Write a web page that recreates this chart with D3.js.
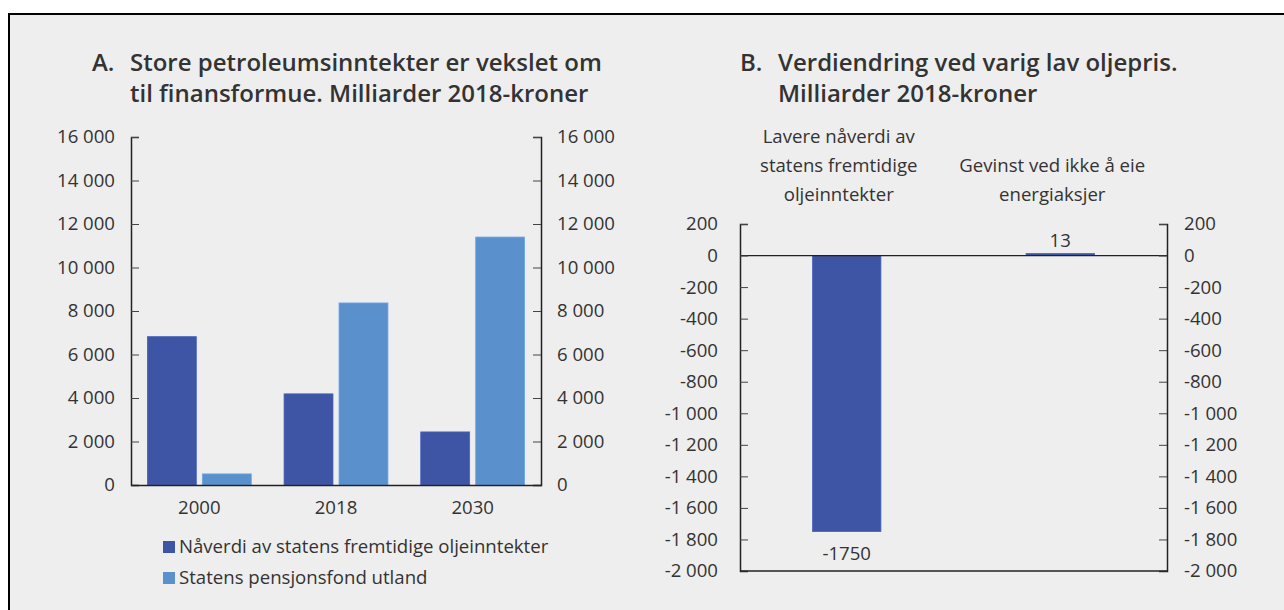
<!DOCTYPE html>
<html>
<head>
<meta charset="utf-8">
<script src="https://cdn.jsdelivr.net/npm/d3@7"></script>
<style>
  body { margin: 0; background: #fff; }
  text { font-family: "Open Sans", sans-serif; fill: #333; }
</style>
</head>
<body>
<script>
// Panel A data
let yearsA = ["2000", "2018", "2030"];
let naverdi = [6820, 4190, 2440];
let spu = [510, 8370, 11400];
let seriesA = ["Nåverdi av statens fremtidige oljeinntekter", "Statens pensjonsfond utland"];
let ticksA = [0, 2000, 4000, 6000, 8000, 10000, 12000, 14000, 16000];

// Panel B data
let categoriesB = [
  ["Lavere nåverdi av", "statens fremtidige", "oljeinntekter"],
  ["Gevinst ved ikke å eie", "energiaksjer"]
];
let valuesB = [-1750, 13];
let ticksB = [200, 0, -200, -400, -600, -800, -1000, -1200, -1400, -1600, -1800, -2000];

let w = 1284;
let h = 610;
let dark = "#3d55a4";
let light = "#5a90cc";
let fs = "18.6px";
let tfs = "24px";

let locale = d3.formatLocale({ decimal: ",", thousands: "\u00a0", grouping: [3], currency: ["", ""], minus: "-" });
let fmt = locale.format(",");

let svg = d3.select("body").append("svg").attr("width", w).attr("height", h);

svg.append("rect").attr("width", w).attr("height", h).attr("fill", "#fff");
svg.append("rect")
  .attr("x", 9).attr("y", 14).attr("width", w + 10).attr("height", h)
  .attr("fill", "#eeeeee").attr("stroke", "#000").attr("stroke-width", 2);

// ---------- Panel A ----------
let aLeft = 131, aRight = 541, aTop = 137, aBottom = 485;

let titleA = svg.append("g").attr("font-size", tfs).attr("font-weight", 600);
titleA.append("text").attr("x", 92).attr("y", 71).text("A.");
titleA.append("text").attr("x", 130).attr("y", 71).text("Store petroleumsinntekter er vekslet om");
titleA.append("text").attr("x", 130).attr("y", 102).text("til finansformue. Milliarder 2018-kroner");

let xA = d3.scaleBand().domain(yearsA).range([aLeft, aRight]).paddingOuter(0.12).paddingInner(0.24);
let xSubA = d3.scaleBand().domain([0, 1]).range([0, xA.bandwidth()]).paddingInner(0.11);
let yA = d3.scaleLinear().domain([0, 16000]).range([aBottom, aTop]);

let seriesValsA = [naverdi, spu];
let colorsA = [dark, light];

yearsA.forEach((yr, i) => {
  seriesValsA.forEach((vals, s) => {
    svg.append("rect")
      .attr("x", xA(yr) + xSubA(s))
      .attr("y", yA(vals[i]))
      .attr("width", xSubA.bandwidth())
      .attr("height", yA(0) - yA(vals[i]))
      .attr("fill", colorsA[s])
      .attr("stroke", d3.color(colorsA[s]).brighter(0.4))
      .attr("stroke-width", 0.8);
  });
});

function styleAxis(g) {
  g.select(".domain").attr("stroke", "#222").attr("stroke-width", 1.5);
  g.selectAll(".tick line").attr("stroke", "#444");
  g.selectAll(".tick text").attr("font-size", fs).attr("fill", "#333").attr("font-family", "Open Sans, sans-serif");
}

svg.append("g")
  .attr("transform", "translate(" + aLeft + ",0)")
  .call(d3.axisRight(yA).tickValues(ticksA).tickSize(8).tickFormat(() => ""))
  .call(styleAxis);
svg.append("g")
  .attr("transform", "translate(" + aLeft + ",0)")
  .call(d3.axisLeft(yA).tickValues(ticksA).tickSize(0).tickPadding(16).tickFormat(fmt))
  .call(g => g.select(".domain").remove())
  .call(styleAxis);

svg.append("g")
  .attr("transform", "translate(" + aRight + ",0)")
  .call(d3.axisLeft(yA).tickValues(ticksA).tickSize(8).tickFormat(() => ""))
  .call(styleAxis);
svg.append("g")
  .attr("transform", "translate(" + aRight + ",0)")
  .call(d3.axisRight(yA).tickValues(ticksA).tickSize(0).tickPadding(16).tickFormat(fmt))
  .call(g => g.select(".domain").remove())
  .call(styleAxis);

svg.append("g")
  .attr("transform", "translate(0," + aBottom + ")")
  .call(d3.axisBottom(xA).tickSize(0).tickPadding(16))
  .call(styleAxis);

// Legend A
seriesA.forEach((name, i) => {
  let ly = 541 + i * 31;
  svg.append("rect").attr("x", 163).attr("y", ly).attr("width", 12).attr("height", 12).attr("fill", colorsA[i]);
  svg.append("text").attr("x", 179).attr("y", ly + 12).attr("font-size", fs).text(name);
});

// ---------- Panel B ----------
let bLeft = 740, bRight = 1167, bTop = 224, bBottom = 571;

let titleB = svg.append("g").attr("font-size", tfs).attr("font-weight", 600);
titleB.append("text").attr("x", 740).attr("y", 71).text("B.");
titleB.append("text").attr("x", 778).attr("y", 71).text("Verdiendring ved varig lav oljepris.");
titleB.append("text").attr("x", 778).attr("y", 102).text("Milliarder 2018-kroner");

let xB = d3.scaleBand().domain([0, 1]).range([bLeft, bRight]).paddingInner(0.68).paddingOuter(0.34);
let yB = d3.scaleLinear().domain([-2000, 200]).range([bBottom, bTop]);

valuesB.forEach((v, i) => {
  svg.append("rect")
    .attr("x", xB(i))
    .attr("y", yB(Math.max(0, v)))
    .attr("width", xB.bandwidth())
    .attr("height", Math.abs(yB(v) - yB(0)))
    .attr("fill", dark)
    .attr("stroke", d3.color(dark).brighter(0.4))
    .attr("stroke-width", 0.8);
  svg.append("text")
    .attr("x", xB(i) + xB.bandwidth() / 2)
    .attr("y", v < 0 ? yB(v) + 28 : yB(v) - 6)
    .attr("text-anchor", "middle")
    .attr("font-size", fs)
    .text(v);
});

// category labels above the plot, bottom aligned
categoriesB.forEach((lines, i) => {
  let cx = xB(i) + xB.bandwidth() / 2 - 8;
  lines.forEach((line, j) => {
    svg.append("text")
      .attr("x", cx)
      .attr("y", 201 - (lines.length - 1 - j) * 29)
      .attr("text-anchor", "middle")
      .attr("font-size", fs)
      .text(line);
  });
});

svg.append("line")
  .attr("x1", bLeft).attr("x2", bRight)
  .attr("y1", yB(0)).attr("y2", yB(0))
  .attr("stroke", "#222").attr("stroke-width", 1.2);

svg.append("g")
  .attr("transform", "translate(" + bLeft + ",0)")
  .call(d3.axisRight(yB).tickValues(ticksB).tickSize(8).tickFormat(() => ""))
  .call(styleAxis);
svg.append("g")
  .attr("transform", "translate(" + bLeft + ",0)")
  .call(d3.axisLeft(yB).tickValues(ticksB).tickSize(0).tickPadding(22).tickFormat(fmt))
  .call(g => g.select(".domain").remove())
  .call(styleAxis);

svg.append("g")
  .attr("transform", "translate(" + bRight + ",0)")
  .call(d3.axisLeft(yB).tickValues(ticksB).tickSize(8).tickFormat(() => ""))
  .call(styleAxis);
svg.append("g")
  .attr("transform", "translate(" + bRight + ",0)")
  .call(d3.axisRight(yB).tickValues(ticksB).tickSize(0).tickPadding(17).tickFormat(fmt))
  .call(g => g.select(".domain").remove())
  .call(styleAxis);

svg.append("line")
  .attr("x1", bLeft).attr("x2", bRight)
  .attr("y1", bBottom).attr("y2", bBottom)
  .attr("stroke", "#222").attr("stroke-width", 1.5);
</script>
</body>
</html>
